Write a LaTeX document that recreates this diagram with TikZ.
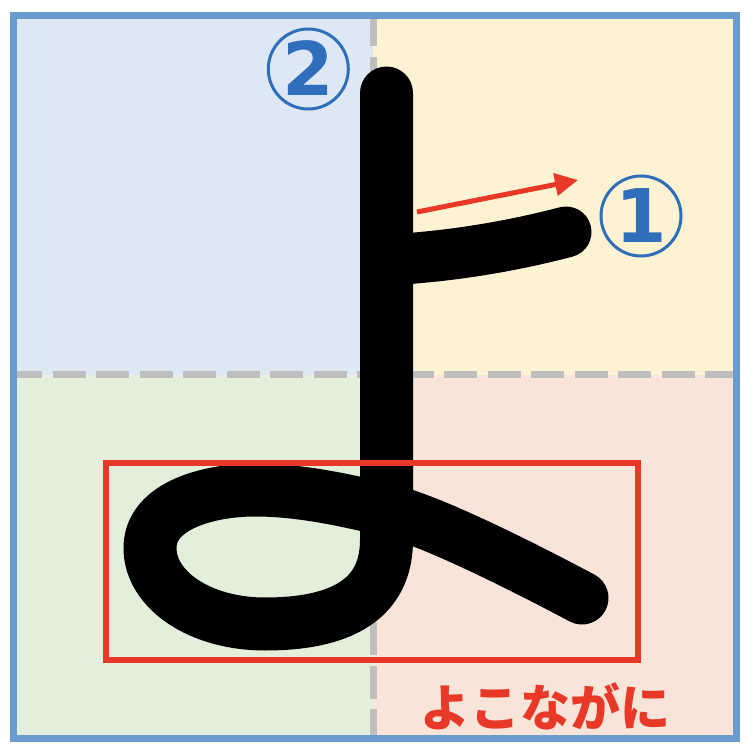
\documentclass[tikz,border=0pt]{standalone}
\usepackage{fontspec}
\usepackage{xcolor}
\usetikzlibrary{arrows.meta}
\newfontfamily\kanafont{Noto Sans CJK JP}
\newfontfamily\digitfont{DejaVu Sans}
\definecolor{qblue}{RGB}{222,232,245}
\definecolor{qyellow}{RGB}{253,242,209}
\definecolor{qgreen}{RGB}{227,238,219}
\definecolor{qpeach}{RGB}{248,228,216}
\definecolor{frameblue}{RGB}{108,155,208}
\definecolor{guidegray}{RGB}{191,191,191}
\definecolor{markred}{RGB}{232,56,40}
\definecolor{numblue}{RGB}{47,110,186}
\tikzset{brush/.style={draw=black,line width=53pt,
                       line cap=round,line join=round}}
\tikzset{guide/.style={draw=guidegray,line width=7pt,
                       dash pattern=on 33pt off 10.5pt}}
\tikzset{hint/.style={draw=markred,line width=5.5pt}}
\tikzset{numcircle/.style={draw=numblue,circle,line width=3pt,
                       minimum size=80pt,inner sep=0pt,text=numblue,
                       font=\digitfont\bfseries\fontsize{74}{74}\selectfont,
                       text height=54pt,text depth=0pt}}
\tikzset{caption/.style={text=markred,inner sep=0pt,
                       font=\kanafont\bfseries\fontsize{50}{50}\selectfont}}
\begin{document}
\begin{tikzpicture}[x=1pt,y=-1pt]
    \useasboundingbox (0,0) rectangle (748,746);
    % Draw quadrant backgrounds
    \foreach \qc/\xa/\ya/\xb/\yb in {qblue/13.7/15.5/373/375,
                                     qyellow/373/15.5/736.5/375,
                                     qgreen/13.7/375/373/738.7,
                                     qpeach/373/375/736.5/738.7}{%
          \fill[\qc] (\xa,\ya) rectangle (\xb,\yb);
        }
    % Dashed guide lines
    \coordinate (gtop) at (373,15.5);
    \coordinate (gbottom) at (373,738.7);
    \coordinate (gleft) at (13.7,375);
    \coordinate (gright) at (736.5,375);
    \draw[guide,dash phase=2.3pt] (gtop) -- (gbottom);
    \draw[guide,dash phase=4.4pt] (gleft) -- (gright);
    % Stroke 1: short horizontal bar
    \coordinate (barstart) at (387,260);
    \coordinate (barend) at (566,232);
    \draw[brush,line width=51pt] (barstart)
        .. controls (460,256) and (520,244) .. (barend);
    % Stroke 2: vertical line, loop and tail
    \coordinate (vtop) at (386.5,93);
    \coordinate (vbend) at (386.5,540);
    \coordinate (tailend) at (582,598);
    \draw[brush] (vtop) -- (vbend)
        .. controls (386.5,600) and (340,624) .. (265,624)
        .. controls (200,624) and (150,590) .. (150,548)
        .. controls (150,505) and (210,490) .. (255,490)
        .. controls (300,490) and (345,500) .. (387,510)
        .. controls (430,520) and (520,565) .. (tailend);
    % Highlight box round the loop
    \node[hint,rectangle,inner sep=0pt,minimum width=532pt,
          minimum height=197pt] (hintbox) at (372,561.5) {};
    % Direction arrow for stroke 1
    \coordinate (arrstart) at (417,212);
    \coordinate (arrtip) at (578,180);
    \draw[hint,line width=5pt,-{Triangle[length=23pt,width=22pt]}]
        (arrstart) -- (arrtip);
    % Stroke order numbers
    \node[numcircle] (one) at (641,216) {1};
    \node[numcircle] (two) at (308.3,69) {2};
    % Caption
    \node[caption] (label) at (545,706) {よこながに};
    % Outer frame
    \draw[draw=frameblue,line width=7pt] (13.7,15.5) rectangle (736.5,738.7);
\end{tikzpicture}
\end{document}
